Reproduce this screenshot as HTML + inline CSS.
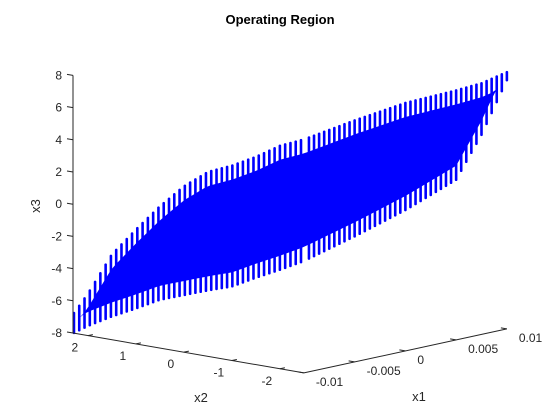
<!DOCTYPE html>
<html><head><meta charset="utf-8"><style>
html,body{margin:0;padding:0;background:#fff;}
svg{display:block;font-family:"Liberation Sans",Arial,sans-serif;}
</style></head><body>
<svg id="chart" width="560" height="420" viewBox="0 0 560 420" xmlns="http://www.w3.org/2000/svg">
<rect width="560" height="420" fill="#fff"/>
<text x="280" y="24" text-anchor="middle" font-size="13" font-weight="bold" fill="#000">Operating Region</text>
<g id="cloud"></g>
<g id="axes"></g>
<text x="40" y="206" transform="rotate(-90 40 206)" text-anchor="middle" font-size="13" fill="#262626">x3</text>
<text x="201" y="402" text-anchor="middle" font-size="13" fill="#262626">x2</text>
<text x="419" y="401" text-anchor="middle" font-size="13" fill="#262626">x1</text>
</svg>
<script>
// Data
const zTicks = [-8,-6,-4,-2,0,2,4,6,8];
const x2Ticks = [2,1,0,-1,-2];
const x2TickLabels = ['2','1','0','-1','-2'];
const x1Ticks = [-0.01,-0.005,0,0.005,0.01];
const x1TickLabels = ['-0.01','-0.005','0','0.005','0.01'];
// envelope along x1 = -0.01 face
const x2A = [2.3,2.0,1.5,1.0,0.5,0,-0.5,-1.0,-1.5,-2.0,-2.5];
const topA = [-6.8,-5.4,-2.7,-0.9,0.8,2.3,3.45,4.1,4.9,5.85,6.5];
const botA = [-8,-7.4,-6.55,-5.8,-5.0,-4.45,-3.9,-3.4,-2.6,-1.85,-1.05];
// envelope along x2 = -2.5 face
const x1B = [-0.01,-0.005,0,0.005,0.0075,0.01];
const topB = [6.5,7.0,7.4,7.5,7.6,7.95];
const botB = [-1.05,-0.2,0.75,1.95,4.4,7.45];

const X2MAX = 2.31, X2MIN = -2.5, X1MIN = -0.01, X1MAX = 0.01;
function P(x1, x2, z){
  const a = X2MAX - x2, b = (x1 - X1MIN)/(X1MAX - X1MIN);
  return [73 + a*48 + b*203, 333 + a*8.3 - b*44 - (z+8)*16.1];
}
const NS = 'http://www.w3.org/2000/svg';
function mk(tag, attrs, parent){
  const e = document.createElementNS(NS, tag);
  for (const k in attrs) e.setAttribute(k, attrs[k]);
  parent.appendChild(e); return e;
}
function interp(xs, ys, x){
  for (let i=0;i<xs.length-1;i++){
    const a=xs[i], b=xs[i+1];
    if ((x-a)*(x-b) <= 0){ const t=(x-a)/(b-a); return ys[i]+t*(ys[i+1]-ys[i]); }
  }
  return ys[ys.length-1];
}
const cloud = document.getElementById('cloud');
const axes = document.getElementById('axes');

const cols = [];
for (let x2 = X2MAX - 0.02; x2 >= X2MIN; x2 -= 0.11){
  const t = P(X1MIN, x2, interp(x2A, topA, x2)), b = P(X1MIN, x2, interp(x2A, botA, x2));
  cols.push([t[0], t[1], b[1]]);
}
for (let x1 = X1MIN + 0.0005; x1 <= X1MAX + 1e-9; x1 += 0.0005){
  const t = P(x1, X2MIN, interp(x1B, topB, x1)), b = P(x1, X2MIN, interp(x1B, botB, x1));
  cols.push([t[0], t[1], b[1]]);
}
let pts = [];
cols.forEach(c => { let yt = c[1]+14, yb = c[2]-14; if (yt > yb){ yt = yb = (c[1]+c[2])/2; } pts.push([c[0], yt]); c.push(yb); });
const bodyPts = pts.map(p=>p.join(',')).concat(cols.slice().reverse().map(c=>c[0]+','+c[3])).join(' ');
const body = mk('polygon', {points: bodyPts, fill:'#0000ff'}, cloud);


cols.forEach(c => {
  const r = mk('rect', {x: c[0]-1.3, y: c[1]-1.3, width: 2.6, height: Math.max(3, c[2]-c[1]+2.6), rx: 1.3, fill:'#0000ff'}, cloud);
  
  
});

const z0 = P(X1MIN, X2MAX, -8), z1 = P(X1MIN, X2MAX, 8);
let l = mk('line', {x1:z0[0], y1:z0[1], x2:z1[0], y2:z1[1], stroke:'#262626', 'stroke-width':1}, axes);


zTicks.forEach(z => {
  const p = P(X1MIN, X2MAX, z);
  const t = mk('line', {x1:p[0]-6, y1:p[1]-1, x2:p[0], y2:p[1], stroke:'#262626'}, axes);
  
  
  const tx = mk('text', {x:p[0]-11, y:p[1]+4, 'text-anchor':'end', 'font-size':'12', fill:'#262626'}, axes);
  tx.textContent = String(z);
  
  
});
const a0 = P(X1MIN, X2MAX, -8), a1 = P(X1MIN, X2MIN, -8);
l = mk('line', {x1:a0[0], y1:a0[1], x2:a1[0], y2:a1[1], stroke:'#262626'}, axes);


x2Ticks.forEach((v,i) => {
  const p = P(X1MIN, v, -8);
  const t = mk('line', {x1:p[0], y1:p[1], x2:p[0]+5, y2:p[1]-1, stroke:'#262626'}, axes);
  
  
  const tx = mk('text', {x:p[0]-13, y:p[1]+16, 'text-anchor':'middle', 'font-size':'12', fill:'#262626'}, axes);
  tx.textContent = x2TickLabels[i];
  
  
});
const b1 = P(X1MAX, X2MIN, -8);
l = mk('line', {x1:a1[0], y1:a1[1], x2:b1[0], y2:b1[1], stroke:'#262626'}, axes);


x1Ticks.forEach((v,i) => {
  const p = P(v, X2MIN, -8);
  const t = mk('line', {x1:p[0], y1:p[1], x2:p[0]-6, y2:p[1]-1, stroke:'#262626'}, axes);
  
  
  const tx = mk('text', {x:p[0]+12, y:p[1]+13, 'text-anchor':'start', 'font-size':'12', fill:'#262626'}, axes);
  tx.textContent = x1TickLabels[i];
  
  
});
</script>
</body></html>
